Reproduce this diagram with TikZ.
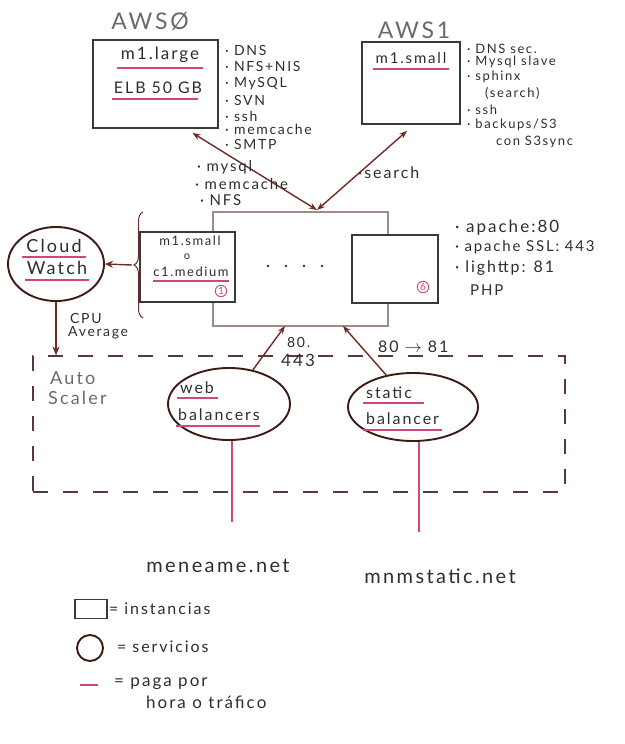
\documentclass[tikz,border=0pt]{standalone}
\usepackage{fontspec}
\setmainfont{Lato}[LetterSpace=12]
\usetikzlibrary{arrows.meta,shapes.geometric,decorations.pathreplacing,calc}
\definecolor{pencil}{HTML}{3A3A3A}
\definecolor{ink}{HTML}{2E2E2E}
\definecolor{arrowc}{HTML}{6E2A26}
\definecolor{brownc}{HTML}{3B1C14}
\definecolor{pinkc}{HTML}{D4457F}
\definecolor{framec}{HTML}{A08C86}
\definecolor{dashc}{HTML}{5A3A36}
\definecolor{greyt}{HTML}{6A6A6A}
\newcommand{\fs}[1]{\fontsize{#1}{#1}\selectfont}
\tikzset{
  txt/.style={inner sep=0pt, text=ink, font=\fs{15}},
  small/.style={inner sep=0pt, text=ink, font=\fs{14}, anchor=west},
  big/.style={inner sep=0pt, text=greyt, font=\fs{23}},
  inst/.style={draw=pencil, line width=1.9pt, fill=white, rectangle, inner sep=0pt},
  svc/.style={draw=brownc, line width=1.9pt, ellipse, inner sep=0pt},
  conn/.style={draw=arrowc, line width=1.4pt},
  pay/.style={draw=pinkc, line width=2pt},
  grp/.style={draw=framec, line width=1.1pt, rectangle, inner sep=0pt},
  dashbox/.style={draw=dashc, line width=1.2pt, dash pattern=on 15pt off 15pt, rectangle, inner sep=0pt},
  num/.style={circle, draw=pinkc, line width=0.9pt, text=pinkc, inner sep=0.8pt, font=\fs{10}},
}
\begin{document}
\begin{tikzpicture}[x=1pt,y=-1pt]
\useasboundingbox (0,0) rectangle (624,744);

% ---------- AWS0 ----------
\node[big] (aws0lbl) at (150,22) {AWSØ};
\node[inst, minimum width=125pt, minimum height=88pt] (aws0) at (155.5,84) {};
\node[txt, font=\fs{17}] (large) at (160,55) {m1.large};
\draw[pay] ([yshift=-5pt,xshift=-4pt]large.south west) -- ([yshift=-5pt,xshift=4pt]large.south east);
\node[txt, font=\fs{16}] (elb) at (158,88) {ELB 50 GB};
\draw[pay] ([yshift=-5pt,xshift=-2pt]elb.south west) -- ([yshift=-5pt,xshift=-4pt]elb.south east);
\node[small] (a0l1) at (225,50) {· DNS};
\node[small] (a0l2) at (225,66) {· NFS+NIS};
\node[small] (a0l3) at (225,84) {· MySQL};
\node[small] (a0l4) at (225,100) {· SVN};
\node[small] (a0l5) at (225,116) {· ssh};
\node[small] (a0l6) at (225,129) {· memcache};
\node[small] (a0l7) at (225,144) {· SMTP};

% ---------- AWS1 ----------
\node[big] (aws1lbl) at (414,30) {AWS1};
\node[inst, minimum width=98pt, minimum height=82pt] (aws1) at (411,83) {};
\node[txt, font=\fs{15}] (small1) at (411,58) {m1.small};
\draw[pay] ([yshift=-5pt,xshift=-3pt]small1.south west) -- ([yshift=-5pt,xshift=3pt]small1.south east);
\node[small, font=\fs{13}] (a1l1) at (467,49) {· DNS sec.};
\node[small, font=\fs{13}] (a1l2) at (467,62) {· Mysql slave};
\node[small, font=\fs{13}] (a1l3) at (467,77) {· sphinx};
\node[small, font=\fs{13}] (a1l4) at (485,93) {(search)};
\node[small, font=\fs{13}] (a1l5) at (467,110) {· ssh};
\node[small, font=\fs{13}] (a1l6) at (467,125) {· backups/S3};
\node[small, font=\fs{13}] (a1l7) at (496,142) {con S3sync};

% ---------- central group ----------
\node[grp, minimum width=175pt, minimum height=114pt] (group) at (300.5,269) {};
\node[inst, minimum width=95pt, minimum height=70pt] (box1) at (187.5,267) {};
\node[inst, minimum width=86pt, minimum height=68pt] (box6) at (395,269) {};
\node[txt, font=\fs{13}] (b1t1) at (190,241) {m1.small};
\node[txt, font=\fs{11}] (b1t2) at (187,257) {o};
\node[txt, font=\fs{13}] (b1t3) at (191,272) {c1.medium};
\draw[pay, line width=1.6pt] ([yshift=-4pt]b1t3.south west) -- ([yshift=-4pt]b1t3.south east);
\node[num] (n1) at (221,291) {1};
\node[num] (n6) at (423,287) {6};
\foreach \x in {268,286,304,322}
  \fill[ink] (\x,266) circle (1.3pt);

\node[small, font=\fs{17}] (c1) at (455,228) {· apache:80};
\node[small, font=\fs{15}] (c2) at (455,247) {· apache SSL: 443};
\node[small, font=\fs{16}] (c3) at (455,268) {· lighttp: 81};
\node[small, font=\fs{15}] (c4) at (470,290) {PHP};

% connectors to AWS0 / AWS1
\coordinate (gtop) at (317,210);
\coordinate (a0end) at ([xshift=37pt,yshift=-4pt]aws0.south);
\coordinate (a1end) at ([xshift=-4pt,yshift=-6pt]aws1.south);
\draw[conn, {Stealth[length=8pt,width=6pt]}-{Stealth[length=8pt,width=6pt]}] (a0end) -- (gtop);
\draw[conn, {Stealth[length=8pt,width=6pt]}-{Stealth[length=8pt,width=6pt]}] (a1end) -- (gtop);
\node[small, font=\fs{15}] (m1) at (197,167) {· mysql};
\node[small, font=\fs{15}] (m2) at (195,184) {· memcache};
\node[small, font=\fs{15}] (m3) at (200,200) {· NFS};
\node[small, font=\fs{16}] (srch) at (358,173) {·search};

% brace and Cloud Watch
\draw[draw=arrowc, line width=1pt, decorate, decoration={brace, amplitude=9pt}] (143,318) -- (143,212);
\coordinate (bracetip) at (132,265);
\node[svc, minimum width=96pt, minimum height=74pt] (cw) at (56,264) {};
\node[txt, font=\fs{18}] (cwt1) at (54,246) {Cloud};
\draw[pay] ([yshift=-4pt,xshift=-4pt]cwt1.south west) -- ([yshift=-4pt,xshift=4pt]cwt1.south east);
\node[txt, font=\fs{18}] (cwt2) at (57,268) {Watch};
\draw[pay] ([yshift=-5pt,xshift=-2pt]cwt2.south west) -- ([yshift=-5pt,xshift=2pt]cwt2.south east);
\draw[conn, -{Stealth[length=8pt,width=7pt]}] (bracetip) -- (cw.east);

% Auto scaler
\node[dashbox, minimum width=532pt, minimum height=136pt] (asc) at (299,424) {};
\draw[conn, -{Stealth[length=9pt,width=7pt]}] (cw.south) -- (cw.south |- asc.north);
\node[small, font=\fs{14}] (cpu1) at (70,318) {CPU};
\node[small, font=\fs{14}] (cpu2) at (68,333) {Average};
\node[big, anchor=west, font=\fs{18}] (as1) at (50,378) {Auto};
\node[big, anchor=west, font=\fs{18}] (as2) at (48,398) {Scaler};

% balancers
\node[svc, minimum width=122pt, minimum height=72pt] (web) at (229,404) {};
\node[txt, font=\fs{16}, anchor=west] (wb1) at (180,388) {web};
\draw[pay] ([yshift=-4pt,xshift=-3pt]wb1.south west) -- ([yshift=-4pt,xshift=4pt]wb1.south east);
\node[txt, font=\fs{16}, anchor=west] (wb2) at (178,415) {balancers};
\draw[pay] ([yshift=-5pt,xshift=-2pt]wb2.south west) -- ([yshift=-5pt]wb2.south east);
\node[svc, minimum width=130pt, minimum height=68pt] (stat) at (413,407) {};
\node[txt, font=\fs{16}, anchor=west] (sb1) at (366,393) {static};
\draw[pay] ([yshift=-4pt,xshift=-3pt]sb1.south west) -- ([yshift=-4pt,xshift=12pt]sb1.south east);
\node[txt, font=\fs{16}, anchor=west] (sb2) at (366,419) {balancer};
\draw[pay] ([yshift=-5pt,xshift=-3pt]sb2.south west) -- ([yshift=-5pt,xshift=3pt]sb2.south east);

\coordinate (gb1) at (285,326);
\coordinate (gb2) at (343,326);
\draw[conn, -{Stealth[length=8pt,width=6pt]}] (web.55) -- (gb1);
\draw[conn, -{Stealth[length=8pt,width=6pt]}] (stat.130) -- (gb2);
\node[small, font=\fs{14}] (p1) at (287,342) {80.};
\node[small, font=\fs{17}] (p2) at (281,360) {443};
\node[small, font=\fs{16}] (p3) at (378,347) {80 $\rightarrow$ 81};

% domains
\coordinate (wend) at (232,522);
\coordinate (send) at (424,532);
\draw[pay] (web.-86) -- (web.-86 |- wend);
\draw[pay] (stat.-80) -- (stat.-80 |- send);
\node[txt, font=\fs{20}] (dom1) at (218,566) {meneame.net};
\node[txt, font=\fs{20}] (dom2) at (440,576) {mnmstatic.net};

% legend
\node[inst, line width=1.4pt, fill=none, minimum width=32pt, minimum height=19pt] (legbox) at (91,609) {};
\node[small, font=\fs{16}] (legt1) at (109,609) {= instancias};
\node[svc, circle, minimum size=26pt] (legc) at (90,648) {};
\node[small, font=\fs{16}] (legt2) at (117,647) {=  servicios};
\coordinate (lp1) at (80,685);
\coordinate (lp2) at (98,685);
\draw[pay, line width=2.2pt] (lp1) -- (lp2);
\node[small, font=\fs{17}] (legt3) at (114,684) {=  paga por};
\node[small, font=\fs{17}] (legt4) at (146,702) {hora o tráfico};
\end{tikzpicture}
\end{document}
